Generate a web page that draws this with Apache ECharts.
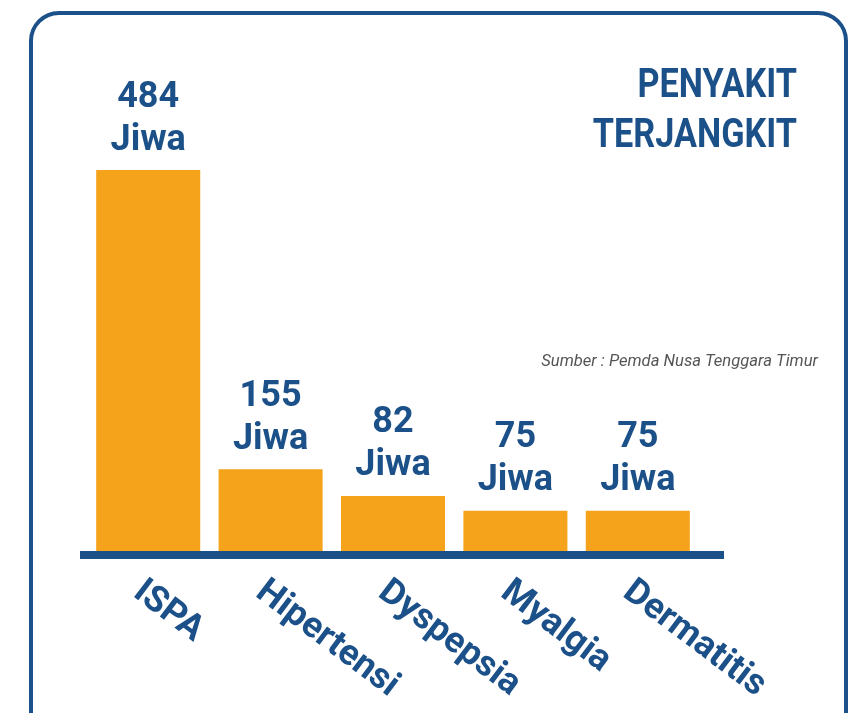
<!DOCTYPE html>
<html>
<head>
<meta charset="utf-8">
<script src="https://cdn.jsdelivr.net/npm/echarts@6/dist/echarts.min.js"></script>
<style>
  html, body { margin: 0; padding: 0; background: #fff; }
  #chart { width: 852px; height: 713px; }
</style>
</head>
<body>
<div id="chart"></div>
<script>
// data
const categories = ['ISPA', 'Hipertensi', 'Dyspepsia', 'Myalgia', 'Dermatitis'];
const values = [484, 155, 82, 75, 75];          // numbers printed over the bars
const barHeights = [484, 104, 70, 51, 51];      // bars as drawn in the infographic (not to scale)
const unit = 'Jiwa';
const titleLines = ['PENYAKIT', 'TERJANGKIT'];
const sourceText = 'Sumber : Pemda Nusa Tenggara Timur';

const blue = '#1b5089';
const orange = '#f5a31a';

const chart = echarts.init(document.getElementById('chart'));

const option = {
  backgroundColor: '#fff',
  animation: false,
  grid: {
    left: 87,
    width: 612,
    top: 170,
    bottom: 162
  },
  xAxis: {
    type: 'category',
    data: categories,
    axisLine: { show: false },
    axisTick: { show: false },
    axisLabel: {
      rotate: -37,
      margin: 23,
      verticalAlign: 'top',
      color: blue,
      fontFamily: 'Roboto',
      fontWeight: 'bold',
      fontSize: 36
    }
  },
  yAxis: {
    type: 'value',
    min: 0,
    max: 484,
    show: false,
    splitLine: { show: false }
  },
  series: [
    {
      type: 'bar',
      data: barHeights,
      barCategoryGap: '15%',
      itemStyle: { color: orange },
      label: {
        show: true,
        position: 'top',
        distance: 8,
        color: blue,
        fontFamily: 'Roboto',
        fontWeight: 'bold',
        fontSize: 36,
        lineHeight: 43,
        formatter: (p) => values[p.dataIndex] + '\n' + unit
      }
    }
  ],
  graphic: [
    // card border
    {
      type: 'rect',
      shape: { x: 31, y: 13, width: 815, height: 760, r: 28 },
      style: { fill: 'none', stroke: blue, lineWidth: 4 },
      z: 0
    },
    // baseline bar
    {
      type: 'line',
      shape: { x1: 80, y1: 555, x2: 724, y2: 555 },
      style: { stroke: blue, lineWidth: 8 },
      z: 10
    },
    {
      type: 'text',
      x: 797,
      y: 62,
      scaleX: 0.835,
      style: {
        text: titleLines.join('\n'),
        fill: blue,
        font: 'bold 41px Roboto',
        lineHeight: 50,
        textAlign: 'right'
      }
    },
    {
      type: 'text',
      x: 818,
      y: 362,
      style: {
        text: sourceText,
        fill: '#555',
        font: 'italic 16.6px Roboto',
        textAlign: 'right',
        textVerticalAlign: 'middle'
      }
    }
  ]
};

chart.setOption(option);
</script>
</body>
</html>
